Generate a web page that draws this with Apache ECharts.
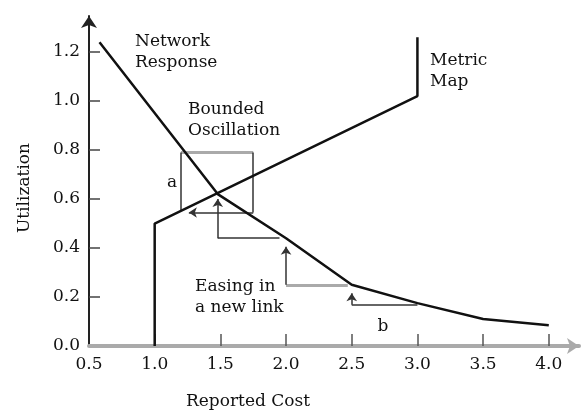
<!DOCTYPE html>
<html>
<head>
<meta charset="utf-8">
<script src="https://cdn.jsdelivr.net/npm/echarts@6/dist/echarts.min.js"></script>
<style>
  html, body { margin: 0; padding: 0; background: #fff; }
  #main { width: 583px; height: 415px; }
</style>
</head>
<body>
<div id="main"></div>
<script>
// 数据
const netCost = [0.58, 1.48, 2.0, 2.5, 3.0, 3.5, 4.0];
const netUtil = [1.24, 0.62, 0.44, 0.25, 0.175, 0.11, 0.085];

const mapCost = [1.0, 1.0, 3.0, 3.0];
const mapUtil = [0, 0.5, 1.02, 1.26];

// 振荡框 + 阶梯 (数据坐标)
const plainSegs = [
  [[1.2, 0.79], [1.2, 0.555]],
  [[1.75, 0.79], [1.75, 0.545]],
  [[1.95, 0.44], [1.48, 0.44]],
  [[3.0, 0.168], [2.5, 0.168]]
];
const graySegs = [
  [[1.2, 0.79], [1.75, 0.79]],
  [[2.47, 0.25], [2.0, 0.25]]
];
const arrowSegs = [
  [[1.75, 0.545], [1.26, 0.545]],
  [[1.48, 0.44], [1.48, 0.60]],
  [[2.0, 0.25], [2.0, 0.405]],
  [[2.5, 0.168], [2.5, 0.215]]
];

const xTicks = [0.5, 1.0, 1.5, 2.0, 2.5, 3.0, 3.5, 4.0];
const yTicks = [0, 0.2, 0.4, 0.6, 0.8, 1.0, 1.2];

const FONT = 'DejaVu Serif';
const INK = '#111';

const zip = (a, b) => a.map((v, i) => [v, b[i]]);

const chart = echarts.init(document.getElementById('main'));

const txt = (text, x, y, extra) => Object.assign({
  type: 'text', x: x, y: y,
  style: { text: text, font: '17px "' + FONT + '"', fill: INK, align: 'left', verticalAlign: 'middle', lineHeight: 21 }
}, extra || {});

chart.setOption({
  animation: false,
  grid: { left: 89, top: 16, right: 4, bottom: 69 },
  xAxis: {
    type: 'value', min: 0.5, max: 4.23, interval: 0.5,
    axisLine: { onZero: true, lineStyle: { color: '#aaa', width: 4 }, symbol: ['none', 'arrow'], symbolSize: [12, 12] },
    axisTick: { inside: true, length: 12, customValues: xTicks.slice(1), lineStyle: { color: '#555', width: 1.5 } },
    axisLabel: { customValues: xTicks, formatter: v => v.toFixed(1), margin: 10, fontFamily: FONT, fontSize: 17, color: INK },
    splitLine: { show: false }
  },
  yAxis: {
    type: 'value', min: 0, max: 1.347, interval: 0.2,
    axisLine: { show: true, lineStyle: { color: '#222', width: 2 }, symbol: ['none', 'arrow'], symbolSize: [12, 12] },
    axisTick: { show: true, inside: true, length: 11, customValues: yTicks.slice(1), lineStyle: { color: '#444', width: 1.5 } },
    axisLabel: { customValues: yTicks, formatter: v => v.toFixed(1), margin: 9, fontFamily: FONT, fontSize: 17, color: INK },
    splitLine: { show: false }
  },
  series: [
    {
      name: 'Network Response', type: 'line', data: zip(netCost, netUtil),
      symbol: 'none', lineStyle: { color: '#111', width: 2.5 }, z: 5
    },
    {
      name: 'Metric Map', type: 'line', data: zip(mapCost, mapUtil),
      symbol: 'none', lineStyle: { color: '#111', width: 2.5 }, z: 5
    },
    {
      type: 'lines', coordinateSystem: 'cartesian2d', symbol: 'none',
      lineStyle: { color: '#aaa', width: 3, opacity: 1 },
      data: graySegs.map(s => ({ coords: s })), z: 3
    },
    {
      type: 'lines', coordinateSystem: 'cartesian2d', symbol: 'none',
      lineStyle: { color: '#333', width: 1.5, opacity: 1 },
      data: plainSegs.map(s => ({ coords: s })), z: 4
    },
    {
      type: 'lines', coordinateSystem: 'cartesian2d', symbol: ['none', 'arrow'], symbolSize: 8,
      lineStyle: { color: '#333', width: 1.5, opacity: 1 },
      data: arrowSegs.map(s => ({ coords: s })), z: 4
    }
  ],
  graphic: [
    txt('Network\nResponse', 135, 52),
    txt('Bounded\nOscillation', 188, 120),
    txt('Metric\nMap', 430, 71),
    txt('a', 172, 183, { style: { text: 'a', font: '17px "' + FONT + '"', fill: INK, align: 'center', verticalAlign: 'middle' } }),
    txt('Easing in\na new link', 195, 297),
    txt('b', 383, 327, { style: { text: 'b', font: '17px "' + FONT + '"', fill: INK, align: 'center', verticalAlign: 'middle' } }),
    txt('Utilization', 25, 188, { rotation: Math.PI / 2, style: { text: 'Utilization', font: '17px "' + FONT + '"', fill: INK, align: 'center', verticalAlign: 'middle' } }),
    txt('Reported Cost', 248, 402, { style: { text: 'Reported Cost', font: '17px "' + FONT + '"', fill: INK, align: 'center', verticalAlign: 'middle' } })
  ]
});
</script>
</body>
</html>
